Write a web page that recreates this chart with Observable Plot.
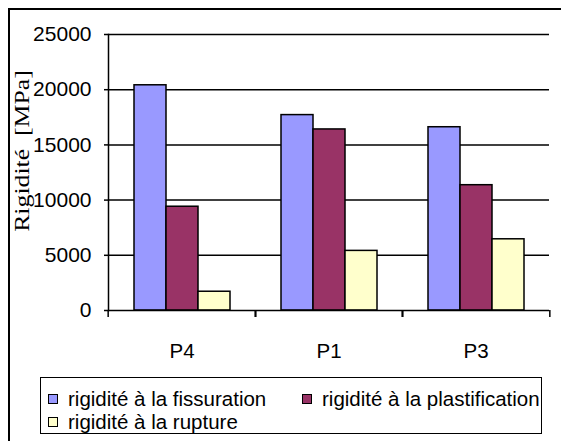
<!DOCTYPE html>
<html>
<head>
<meta charset="utf-8">
<script src="https://cdn.jsdelivr.net/npm/d3@7"></script>
<script src="https://cdn.jsdelivr.net/npm/@observablehq/plot@0.6"></script>
<style>
  html, body { margin: 0; padding: 0; background: #fff; }
  #wrap { position: relative; width: 561px; height: 441px; overflow: hidden; background: #fff; }
  #frame { position: absolute; left: 8px; top: 8px; width: 600px; height: 500px; border-left: 2px solid #000; border-top: 2px solid #000; }
  #chart { position: absolute; left: 0; top: 0; }
  #ylabel { position: absolute; left: 22px; top: 151px; transform: translate(-50%, -50%) rotate(-90deg) scaleX(1.17);
    font-family: "Liberation Serif", "Times New Roman", serif; font-size: 22px; white-space: pre; line-height: 1; color: #000; }
  #legend { position: absolute; left: 40px; top: 377px; width: 502px; height: 57px; border: 1.5px solid #000; background: #fff;
    font-family: "Liberation Sans", Arial, sans-serif; font-size: 20.5px; color: #000;
    display: grid; grid-template-columns: 254px auto; padding: 10px 0 0 7px; box-sizing: border-box; line-height: 22px; }
  .item { display: flex; align-items: center; white-space: nowrap; }
  .sw { display: inline-block; width: 8px; height: 8px; border: 1.5px solid #000; margin-right: 10px; flex: none; }
</style>
</head>
<body>
<div id="wrap">
  <div id="frame"></div>
  <div id="chart"></div>
  <div id="ylabel">Rigidité  [MPa]</div>
  <div id="legend"></div>
</div>
<script>
const categories = ["P4", "P1", "P3"];
const series = ["rigidité à la fissuration", "rigidité à la plastification", "rigidité à la rupture"];
const colors = ["#9999FF", "#993366", "#FFFFCC"];
const fissuration = [20400, 17700, 16600];
const plastification = [9400, 16400, 11350];
const rupture = [1700, 5400, 6450];
const yTicks = [0, 5000, 10000, 15000, 20000, 25000];

const values = [fissuration, plastification, rupture];
const data = [];
categories.forEach((c, i) => series.forEach((s, j) => data.push({cat: c, series: s, value: values[j][i]})));

const W = 561, H = 370, ML = 107, MR = 11, MT = 34, MB = 60;
const bw = (W - ML - MR) / categories.length;

const plot = Plot.plot({
  width: W, height: H,
  marginLeft: ML, marginRight: MR, marginTop: MT, marginBottom: MB,
  style: {fontFamily: "'Liberation Sans', Arial, sans-serif", color: "#000", background: "transparent"},
  fx: {domain: categories, padding: 0, label: null, axis: null},
  x: {domain: series, paddingInner: 0, paddingOuter: 0.74, axis: null},
  y: {domain: [0, 25000], label: null, axis: null},
  color: {domain: series, range: colors},
  marks: [
    Plot.gridY(yTicks.filter(d => d > 0), {stroke: "#000", strokeOpacity: 1, strokeWidth: 1.5}),
    Plot.barY(data, {fx: "cat", x: "series", y: "value", fill: "series", stroke: "#000", strokeWidth: 1.5}),
    Plot.ruleY([0], {stroke: "#000", strokeWidth: 1.5}),
    Plot.frame({anchor: "left", facetAnchor: "left", stroke: "#000", strokeWidth: 1.5}),
    Plot.axisY({ticks: yTicks, tickSize: 4, tickPadding: 13, fontSize: 21, tickFormat: d => String(d), label: null, strokeWidth: 1.5}),
    Plot.axisFx({anchor: "bottom", tickSize: 0, tickPadding: 33, fontSize: 20.5, label: null}),
    Plot.axisFx({anchor: "bottom", tickSize: 7, tickFormat: () => "", dx: -bw / 2, label: null, strokeWidth: 1.5}),
    Plot.axisFx({anchor: "bottom", tickSize: 7, tickFormat: () => "", dx: bw / 2, label: null, strokeWidth: 1.5})
  ]
});
document.getElementById("chart").appendChild(plot);

const legend = document.getElementById("legend");
series.forEach((s, j) => {
  const item = document.createElement("div");
  item.className = "item";
  const sw = document.createElement("span");
  sw.className = "sw";
  sw.style.background = colors[j];
  const t = document.createElement("span");
  t.textContent = s;
  item.appendChild(sw);
  item.appendChild(t);
  legend.appendChild(item);
});
</script>
</body>
</html>
